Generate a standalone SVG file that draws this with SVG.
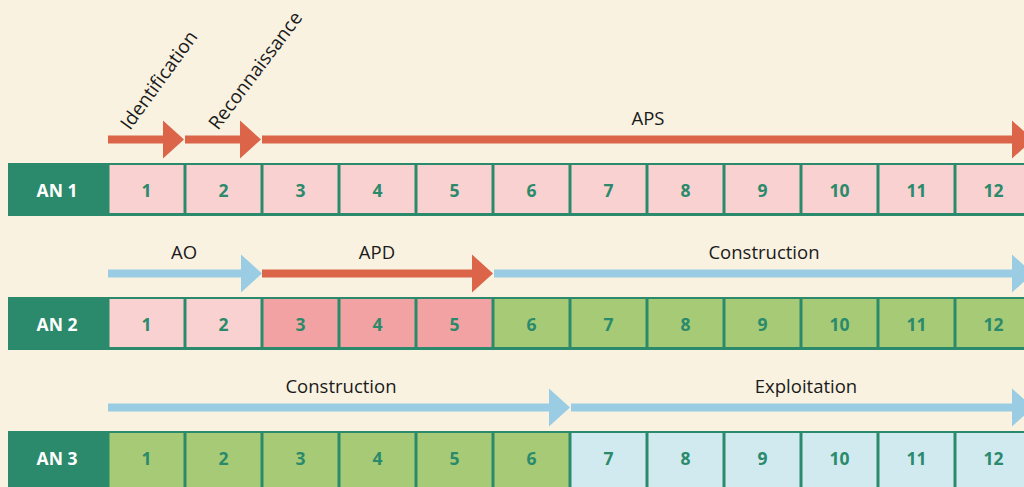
<svg xmlns="http://www.w3.org/2000/svg" width="1024" height="487" viewBox="0 0 1024 487">
<style>
.bg{fill:#f9f2e1}
.band{fill:#2b8a6b}
.pk{fill:#f9d1d0}
.dpk{fill:#f2a2a2}
.lg{fill:#a6ca76}
.lb{fill:#d1eaf0}
.red{fill:#dc6449}
.blue{fill:#9acde3}
.an{font-family:"Open Sans","Noto Sans",sans-serif;font-weight:bold;font-size:17.5px;fill:#ffffff;text-anchor:middle}
.num{font-family:"Open Sans","Noto Sans",sans-serif;font-weight:bold;font-size:17.5px;fill:#2b8a6b;text-anchor:middle}
.lbl{font-family:"Open Sans","Noto Sans",sans-serif;font-size:18.5px;fill:#1a1a1a;text-anchor:middle}
.rot{font-family:"Open Sans","Noto Sans",sans-serif;font-size:19px;fill:#1a1a1a}
</style>
<rect class="bg" x="0" y="0" width="1024" height="487"/>

<g id="row1">
<rect class="band" x="8" y="163" width="1030" height="53"/>
<text class="an" x="57" y="197">AN 1</text>
<rect class="pk" x="109.5" y="165" width="74" height="48"/>
<rect class="pk" x="186.5" y="165" width="74" height="48"/>
<rect class="pk" x="263.5" y="165" width="74" height="48"/>
<rect class="pk" x="340.5" y="165" width="74" height="48"/>
<rect class="pk" x="417.5" y="165" width="74" height="48"/>
<rect class="pk" x="494.5" y="165" width="74" height="48"/>
<rect class="pk" x="571.5" y="165" width="74" height="48"/>
<rect class="pk" x="648.5" y="165" width="74" height="48"/>
<rect class="pk" x="725.5" y="165" width="74" height="48"/>
<rect class="pk" x="802.5" y="165" width="74" height="48"/>
<rect class="pk" x="879.5" y="165" width="74" height="48"/>
<rect class="pk" x="956.5" y="165" width="74" height="48"/>
<text class="num" x="146.5" y="197">1</text>
<text class="num" x="223.5" y="197">2</text>
<text class="num" x="300.5" y="197">3</text>
<text class="num" x="377.5" y="197">4</text>
<text class="num" x="454.5" y="197">5</text>
<text class="num" x="531.5" y="197">6</text>
<text class="num" x="608.5" y="197">7</text>
<text class="num" x="685.5" y="197">8</text>
<text class="num" x="762.5" y="197">9</text>
<text class="num" x="839.5" y="197">10</text>
<text class="num" x="916.5" y="197">11</text>
<text class="num" x="993.5" y="197">12</text>
</g>

<g id="row2">
<rect class="band" x="8" y="297" width="1030" height="53"/>
<text class="an" x="57" y="331">AN 2</text>
<rect class="pk" x="109.5" y="299" width="74" height="48"/>
<rect class="pk" x="186.5" y="299" width="74" height="48"/>
<rect class="dpk" x="263.5" y="299" width="74" height="48"/>
<rect class="dpk" x="340.5" y="299" width="74" height="48"/>
<rect class="dpk" x="417.5" y="299" width="74" height="48"/>
<rect class="lg" x="494.5" y="299" width="74" height="48"/>
<rect class="lg" x="571.5" y="299" width="74" height="48"/>
<rect class="lg" x="648.5" y="299" width="74" height="48"/>
<rect class="lg" x="725.5" y="299" width="74" height="48"/>
<rect class="lg" x="802.5" y="299" width="74" height="48"/>
<rect class="lg" x="879.5" y="299" width="74" height="48"/>
<rect class="lg" x="956.5" y="299" width="74" height="48"/>
<text class="num" x="146.5" y="331">1</text>
<text class="num" x="223.5" y="331">2</text>
<text class="num" x="300.5" y="331">3</text>
<text class="num" x="377.5" y="331">4</text>
<text class="num" x="454.5" y="331">5</text>
<text class="num" x="531.5" y="331">6</text>
<text class="num" x="608.5" y="331">7</text>
<text class="num" x="685.5" y="331">8</text>
<text class="num" x="762.5" y="331">9</text>
<text class="num" x="839.5" y="331">10</text>
<text class="num" x="916.5" y="331">11</text>
<text class="num" x="993.5" y="331">12</text>
</g>

<g id="row3">
<rect class="band" x="8" y="431" width="1030" height="60"/>
<text class="an" x="57" y="465">AN 3</text>
<rect class="lg" x="109.5" y="433" width="74" height="60"/>
<rect class="lg" x="186.5" y="433" width="74" height="60"/>
<rect class="lg" x="263.5" y="433" width="74" height="60"/>
<rect class="lg" x="340.5" y="433" width="74" height="60"/>
<rect class="lg" x="417.5" y="433" width="74" height="60"/>
<rect class="lg" x="494.5" y="433" width="74" height="60"/>
<rect class="lb" x="571.5" y="433" width="74" height="60"/>
<rect class="lb" x="648.5" y="433" width="74" height="60"/>
<rect class="lb" x="725.5" y="433" width="74" height="60"/>
<rect class="lb" x="802.5" y="433" width="74" height="60"/>
<rect class="lb" x="879.5" y="433" width="74" height="60"/>
<rect class="lb" x="956.5" y="433" width="74" height="60"/>
<text class="num" x="146.5" y="465">1</text>
<text class="num" x="223.5" y="465">2</text>
<text class="num" x="300.5" y="465">3</text>
<text class="num" x="377.5" y="465">4</text>
<text class="num" x="454.5" y="465">5</text>
<text class="num" x="531.5" y="465">6</text>
<text class="num" x="608.5" y="465">7</text>
<text class="num" x="685.5" y="465">8</text>
<text class="num" x="762.5" y="465">9</text>
<text class="num" x="839.5" y="465">10</text>
<text class="num" x="916.5" y="465">11</text>
<text class="num" x="993.5" y="465">12</text>
</g>

<g id="connectors">
<polygon class="red" points="108,135.5 163,135.5 163,120.5 184,139.5 163,158.5 163,143.5 108,143.5"/>
<polygon class="red" points="185,135.5 240,135.5 240,120.5 261,139.5 240,158.5 240,143.5 185,143.5"/>
<polygon class="red" points="262,135.5 1012,135.5 1012,120.5 1033,139.5 1012,158.5 1012,143.5 262,143.5"/>
<polygon class="blue" points="108,269.5 241,269.5 241,254.5 262,273.5 241,292.5 241,277.5 108,277.5"/>
<polygon class="red" points="262,269.5 472,269.5 472,254.5 493,273.5 472,292.5 472,277.5 262,277.5"/>
<polygon class="blue" points="494,269.5 1012,269.5 1012,254.5 1033,273.5 1012,292.5 1012,277.5 494,277.5"/>
<polygon class="blue" points="108,403.5 549,403.5 549,388.5 570,407.5 549,426.5 549,411.5 108,411.5"/>
<polygon class="blue" points="571,403.5 1012,403.5 1012,388.5 1033,407.5 1012,426.5 1012,411.5 571,411.5"/>
</g>

<g id="labels">
<text class="rot" transform="translate(130,131) rotate(-54)">Identification</text>
<text class="rot" transform="translate(218,131) rotate(-53)">Reconnaissance</text>
<text class="lbl" x="648" y="125">APS</text>
<text class="lbl" x="184" y="259">AO</text>
<text class="lbl" x="377" y="259">APD</text>
<text class="lbl" x="764" y="259">Construction</text>
<text class="lbl" x="341" y="393">Construction</text>
<text class="lbl" x="806" y="393">Exploitation</text>
</g>
</svg>
